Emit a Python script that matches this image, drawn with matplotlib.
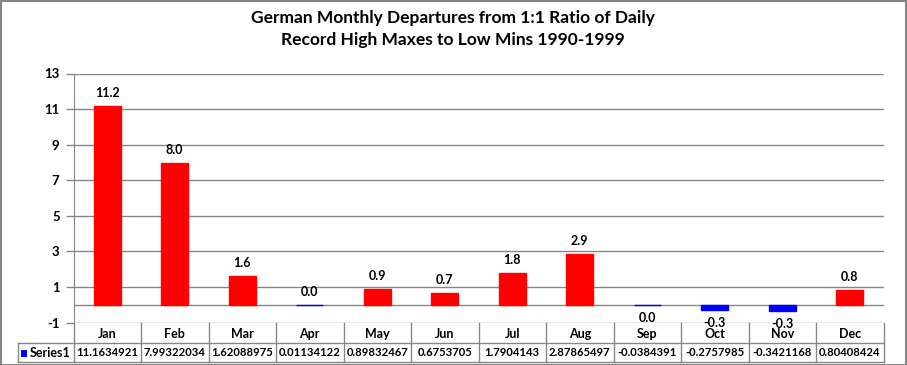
import matplotlib
matplotlib.use("Agg")
import matplotlib.pyplot as plt
from matplotlib.patches import Rectangle
from matplotlib.lines import Line2D

months = ["Jan", "Feb", "Mar", "Apr", "May", "Jun", "Jul", "Aug", "Sep", "Oct", "Nov", "Dec"]
values = [11.1634921, 7.99322034, 1.62088975, 0.01134122, 0.89832467, 0.6753705,
          1.7904143, 2.87865497, -0.0384391, -0.2757985, -0.3421168, 0.80408424]
table_text = ["11.1634921", "7.99322034", "1.62088975", "0.01134122", "0.89832467", "0.6753705",
              "1.7904143", "2.87865497", "-0.0384391", "-0.2757985", "-0.3421168", "0.80408424"]
bar_colors = ["#FF0000", "#FF0000", "#FF0000", "#0000FF", "#FF0000", "#FF0000",
              "#FF0000", "#FF0000", "#0000FF", "#0000FF", "#0000FF", "#FF0000"]
series_name = "Series1"
title = "German Monthly Departures from 1:1 Ratio of Daily\nRecord High Maxes to Low Mins 1990-1999"
yticks = [-1, 1, 3, 5, 7, 9, 11, 13]

FONT = ["Lato", "DejaVu Sans"]
plt.rcParams['font.family'] = FONT

W, H = 907, 365
fig = plt.figure(figsize=(W / 100, H / 100), dpi=100)
grey = "#868686"

# figure border
fig.add_artist(Rectangle((0.5 / W, 0.5 / H), (W - 2) / W, (H - 1.5) / H, transform=fig.transFigure,
                         fill=False, edgecolor=grey, linewidth=1.5))

L, R, T, B = 73.5, 883.5, 73.5, 322.5
ax = fig.add_axes([L / W, 1 - B / H, (R - L) / W, (B - T) / H])
ax.set_xlim(-0.5, len(months) - 0.5)
ax.set_ylim(-1, 13)
ax.set_yticks(yticks)
ax.set_yticklabels([str(t) for t in yticks], fontsize=9.5, fontweight="bold")
ax.tick_params(axis="y", length=6, color=grey, width=1, pad=4)
ax.tick_params(axis="x", length=0, labelbottom=False)
for s in ["top", "right", "bottom"]:
    ax.spines[s].set_visible(False)
ax.spines["left"].set_color(grey)
ax.grid(axis="y", color=grey, linewidth=1)
ax.set_axisbelow(True)

x = list(range(len(months)))
ax.axhline(0, color=grey, linewidth=1, zorder=2)
ax.bar(x, values, width=0.4, color=bar_colors, edgecolor=bar_colors, linewidth=1.0, zorder=3)

for xi, v in zip(x, values):
    r = round(v, 1)
    lab = "0.0" if r == 0 else f"{r:.1f}"
    if v >= 0:
        ax.annotate(lab, (xi, v), xytext=(0, 5), textcoords="offset points",
                    ha="center", va="bottom", fontsize=9, fontweight="bold")
    else:
        ax.annotate(lab, (xi, v), xytext=(0, -5), textcoords="offset points",
                    ha="center", va="top", fontsize=9, fontweight="bold", zorder=5)

fig.suptitle(title, x=453 / W, y=1 - 10 / H, va="top", fontsize=12.5, fontweight="bold",
             linespacing=1.45)

# data table
def fx(px):
    return px / W

def fy(py):
    return 1 - py / H

row1_top, row1_bot, row2_bot = 322.5, 343, 362
colw = (R - L) / len(months)
left_col = 17.5
lines = []
lines.append(((left_col, R), (row1_bot, row1_bot)))
lines.append(((left_col, R), (row2_bot, row2_bot)))
lines.append(((left_col, left_col), (row1_bot, row2_bot)))
for i in range(len(months) + 1):
    xp = L + i * colw
    lines.append(((xp, xp), (row1_top, row2_bot)))
for xs, ys in lines:
    fig.add_artist(Line2D([fx(xs[0]), fx(xs[1])], [fy(ys[0]), fy(ys[1])],
                          transform=fig.transFigure, color=grey, linewidth=1))

for i, (m, t) in enumerate(zip(months, table_text)):
    cx = L + (i + 0.5) * colw
    fig.text(fx(cx), fy((row1_top + row1_bot) / 2 + 1), m, ha="center", va="center",
             fontsize=9, fontweight="bold")
    fig.text(fx(cx), fy((row1_bot + row2_bot) / 2 + 0.5), t, ha="center", va="center",
             fontsize=8.1, fontweight="bold")

# legend key in table
fig.add_artist(Rectangle((fx(21), fy(357)), 6 / W, 7 / H, transform=fig.transFigure,
                         facecolor="#0000FF", edgecolor="none"))
fig.text(fx(30), fy((row1_bot + row2_bot) / 2 + 0.5), series_name, ha="left", va="center",
         fontsize=9, fontweight="bold")

fig.savefig("out.png", dpi=100)
